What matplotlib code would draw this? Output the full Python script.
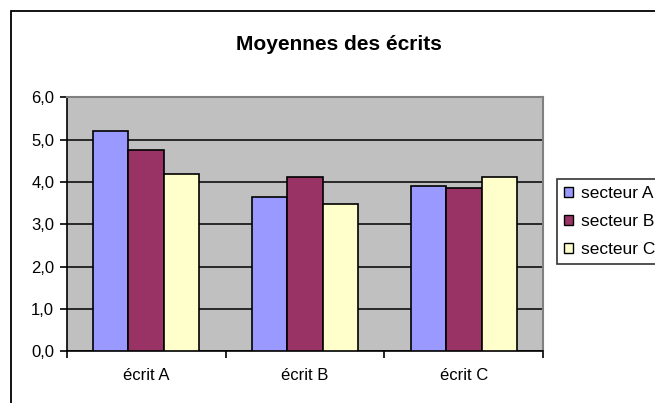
import matplotlib.pyplot as plt
import matplotlib.patches as patches
import numpy as np

plt.rcParams['font.family'] = ['Liberation Sans', 'DejaVu Sans']

categories = ['écrit A', 'écrit B', 'écrit C']
series_names = ['secteur A', 'secteur B', 'secteur C']
secteur_a = [5.20, 3.65, 3.91]
secteur_b = [4.76, 4.13, 3.85]
secteur_c = [4.18, 3.48, 4.13]
y_ticks = [0, 1, 2, 3, 4, 5, 6]
y_labels = ['0,0', '1,0', '2,0', '3,0', '4,0', '5,0', '6,0']

colors = ['#9999ff', '#993366', '#ffffcc']

fig = plt.figure(figsize=(6.55, 4.03), dpi=100)
ax = fig.add_axes([0.1018, 0.1283, 0.7277, 0.6298])

# outer chart frame (cut off on the right and bottom like the original)
frame = patches.Rectangle((11 / 655, -0.2), 1.2, 0.2 + (403 - 11.3) / 403,
                          transform=fig.transFigure, fill=False,
                          edgecolor='black', linewidth=1.3, zorder=0)
fig.patches.append(frame)

x = np.arange(len(categories))
w = 1 / 4.5
for i, (vals, name) in enumerate(zip([secteur_a, secteur_b, secteur_c], series_names)):
    ax.bar(x + (i - 1) * w, vals, width=w, color=colors[i], edgecolor='black',
           linewidth=1.2, label=name, zorder=3)

ax.set_facecolor('#c0c0c0')
ax.set_xlim(-0.5, 2.5)
ax.set_ylim(0, 6)
ax.set_yticks(y_ticks)
ax.set_yticklabels(y_labels, fontsize=12)
ax.yaxis.grid(True, color='black', linewidth=1.1, zorder=1)
ax.set_axisbelow(True)

# category ticks sit on the boundaries, labels in the middle
ax.set_xticks([-0.5, 0.5, 1.5, 2.5])
ax.set_xticklabels([])
ax.set_xticks(x, minor=True)
ax.set_xticklabels(categories, minor=True, fontsize=12)
ax.tick_params(axis='x', which='minor', length=0, pad=12)
ax.tick_params(axis='x', which='major', length=5, width=1.2, direction='out')
ax.tick_params(axis='y', length=5, width=1.2, direction='out', pad=4)

for side in ['top', 'right']:
    ax.spines[side].set_color('#808080')
    ax.spines[side].set_linewidth(1.5)
for side in ['left', 'bottom']:
    ax.spines[side].set_color('black')
    ax.spines[side].set_linewidth(1.2)

fig.text(0.517, 0.877, 'Moyennes des écrits', ha='center', va='baseline',
         fontsize=15, fontweight='bold')

leg = fig.legend(loc='upper left', bbox_to_anchor=(557 / 655, (403 - 179.3) / 403),
                 fontsize=12.5, frameon=True, fancybox=False, borderpad=0.4,
                 handlelength=0.5, handleheight=0.5, handletextpad=0.5,
                 labelspacing=0.75, borderaxespad=0)
leg.get_frame().set_edgecolor('black')
leg.get_frame().set_linewidth(1.2)
for h in leg.legend_handles:
    h.set_linewidth(1.0)

fig.savefig('out.png', dpi=100)
